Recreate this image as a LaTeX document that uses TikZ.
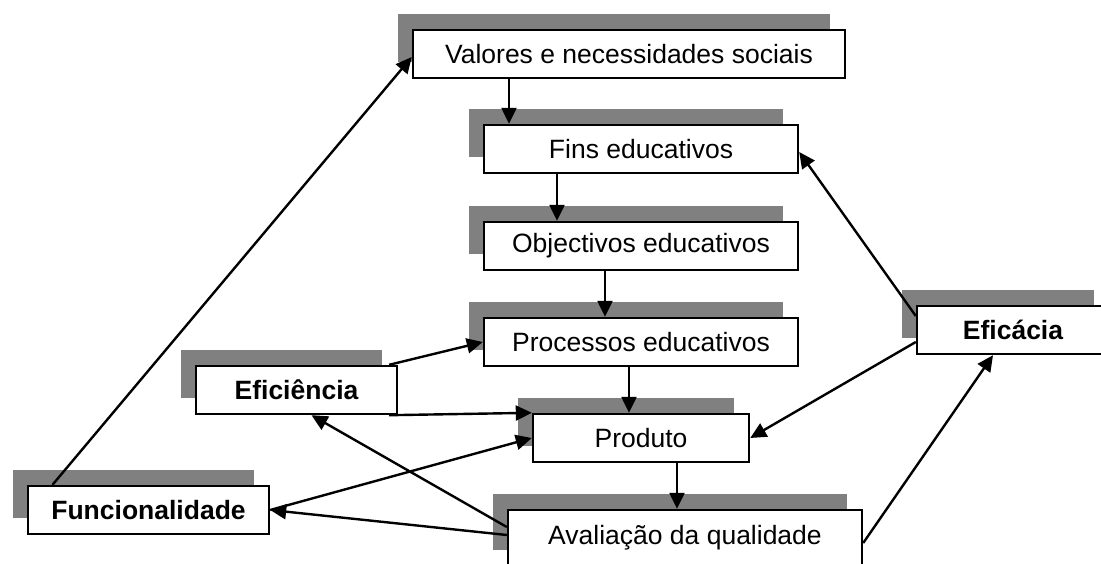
\documentclass[tikz,border=0pt]{standalone}
\usepackage{fontspec}
\setmainfont{Liberation Sans}
\usetikzlibrary{shadows,arrows.meta}
\definecolor{shadowgray}{HTML}{808080}
\begin{document}
\begin{tikzpicture}[x=1pt,y=-1pt,
  box/.style={draw=black, line width=2.4pt, fill=white, inner sep=0pt,
    minimum height=48pt, font=\fontsize{26.5}{30}\selectfont,
    drop shadow={shadow xshift=-15pt, shadow yshift=16pt, opacity=1,
      fill=shadowgray, draw=none}},
  boldbox/.style={box, font=\fontsize{26.5}{30}\selectfont\bfseries},
  conn/.style={line width=2.4pt, -{Triangle[length=16pt,width=15pt]}}]
\useasboundingbox (0,0) rectangle (1101,564);
\clip (0,0) rectangle (1101,564);
\fill[white] (0,0) rectangle (1101,564);

\node[box, minimum width=432pt] (val) at (629,54) {Valores e necessidades sociais};
\node[box, minimum width=314pt] (fins) at (641,149) {Fins educativos};
\node[box, minimum width=314pt] (obj) at (641,246) {Objectivos educativos};
\node[box, minimum width=314pt] (proc) at (641,342) {Processos educativos};
\node[box, minimum width=216pt] (prod) at (641,438) {Produto};
\node[box, minimum width=354pt, minimum height=56pt] (aval) at (685,538) {\raisebox{4pt}{Avaliação da qualidade}};
\node[boldbox, minimum width=192pt] (efc) at (1013,330) {Eficácia};
\node[boldbox, minimum width=201pt] (efi) at (296.5,390) {Eficiência};
\node[boldbox, minimum width=241pt] (func) at (148.5,510) {Funcionalidade};

% vertical chain
\draw[conn] ([xshift=-120pt]val.south) -- ([xshift=-120pt]val.south |- fins.north);
\draw[conn] ([xshift=-84pt]fins.south) -- ([xshift=-84pt]obj.north);
\draw[conn] ([xshift=-36pt]obj.south) -- ([xshift=-36pt]proc.north);
\draw[conn] ([xshift=-12pt]proc.south) -- ([xshift=-12pt]prod.north);
\draw[conn] ([xshift=36pt]prod.south) -- ([xshift=36pt]prod.south |- aval.north);

% Eficiência
\draw[conn] ([xshift=-9pt]efi.north east) -- (proc.west);
\draw[conn] ([xshift=-9pt]efi.south east) -- (prod.north west);

% Funcionalidade
\draw[conn] ([xshift=-96pt]func.north) -- ([yshift=-3pt]val.west);
\draw[conn] (func.east) -- (prod.west);

% Avaliação
\draw[conn] ([yshift=3pt]aval.west) -- (func.east);
\draw[conn] ([yshift=11pt]aval.west) -- ([xshift=15pt]efi.south);
\draw[conn] ([yshift=-5pt]aval.east) -- ([xshift=-20pt]efc.south);

% Eficácia
\draw[conn] ([yshift=-12pt]efc.west) -- (prod.east);
\draw[conn] ([yshift=14pt]efc.west) -- ([yshift=-3pt]fins.east);
\end{tikzpicture}
\end{document}
